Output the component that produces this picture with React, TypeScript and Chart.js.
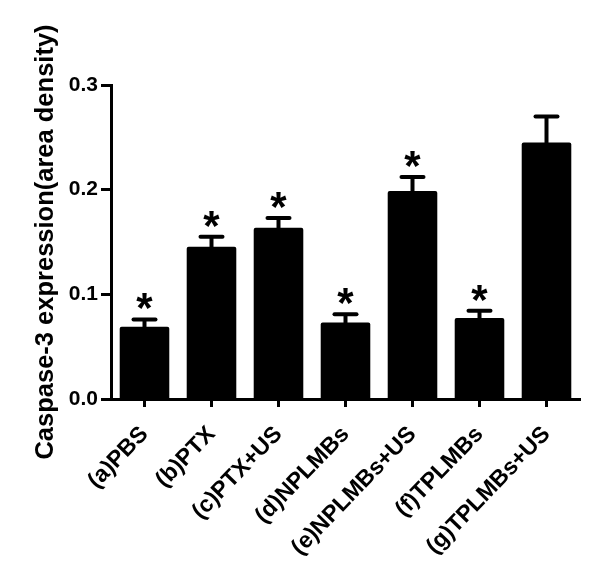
import React, { useEffect, useRef } from 'react';
import { Chart, registerables } from 'chart.js';

Chart.register(...registerables);

const categories = ['(a)PBS', '(b)PTX', '(c)PTX+US', '(d)NPLMBs', '(e)NPLMBs+US', '(f)TPLMBs', '(g)TPLMBs+US'];
const means = [0.069, 0.1455, 0.1636, 0.0732, 0.1987, 0.0774, 0.245];
const errors = [0.007, 0.0095, 0.0094, 0.0078, 0.0133, 0.0069, 0.025];
const significant = [true, true, true, true, true, true, false];
const yTicks = [0, 0.1, 0.2, 0.3];
const yTitle = 'Caspase-3 expression(area density)';

const FONT = '"Liberation Sans", Arial, sans-serif';

const errorBarPlugin = {
  id: 'errorBars',
  afterDatasetsDraw(chart: any) {
    const ctx = chart.ctx;
    const meta = chart.getDatasetMeta(0);
    const y = chart.scales.y;
    ctx.save();
    ctx.strokeStyle = '#000';
    ctx.fillStyle = '#000';
    meta.data.forEach((bar: any, i: number) => {
      const x = bar.x;
      const top = y.getPixelForValue(means[i]);
      const e = y.getPixelForValue(means[i] + errors[i]);
      ctx.lineWidth = 4;
      ctx.lineCap = 'butt';
      ctx.beginPath();
      ctx.moveTo(x, top + 1);
      ctx.lineTo(x, e);
      ctx.stroke();
      ctx.lineCap = 'round';
      ctx.beginPath();
      ctx.moveTo(x - 11, e);
      ctx.lineTo(x + 11, e);
      ctx.stroke();
      if (significant[i]) {
        ctx.font = `bold 42px ${FONT}`;
        ctx.textAlign = 'center';
        ctx.textBaseline = 'alphabetic';
        ctx.fillText('*', x, e + 3);
      }
    });
    ctx.restore();
  },
};

export default function App() {
  const ref = useRef<HTMLCanvasElement>(null);
  useEffect(() => {
    if (!ref.current) return;
    const chart = new Chart(ref.current, {
      type: 'bar',
      data: {
        labels: categories,
        datasets: [
          {
            data: means,
            backgroundColor: '#000',
            borderRadius: 2,
            categoryPercentage: 1,
            barPercentage: 0.74,
          },
        ],
      },
      options: {
        animation: false,
        responsive: true,
        maintainAspectRatio: false,
        layout: { padding: { left: 30, top: 85, right: 20, bottom: 0 } },
        plugins: { legend: { display: false }, tooltip: { enabled: false } },
        scales: {
          x: {
            afterFit: (s: any) => {
              s.height = 176;
            },
            grid: {
              display: true,
              drawOnChartArea: false,
              offset: false,
              tickLength: 8,
              tickWidth: 3,
              color: '#000',
            },
            border: { display: true, width: 3, color: '#000' },
            ticks: {
              color: '#000',
              font: { family: FONT, size: 23, weight: 'bold' },
              minRotation: 46,
              maxRotation: 46,
              padding: 14,
            },
          },
          y: {
            min: 0,
            max: 0.3,
            afterFit: (s: any) => {
              s.width = 81;
            },
            afterBuildTicks: (s: any) => {
              s.ticks = yTicks.map((v) => ({ value: v }));
            },
            grid: {
              display: true,
              drawOnChartArea: false,
              tickLength: 10,
              tickWidth: 3,
              color: '#000',
            },
            border: { display: true, width: 3, color: '#000' },
            ticks: {
              color: '#000',
              font: { family: FONT, size: 21, weight: 'bold' },
              padding: 3,
              callback: (v: any) => Number(v).toFixed(1),
            },
            title: {
              display: true,
              text: yTitle,
              color: '#000',
              font: { family: FONT, size: 25.5, weight: 'bold' },
              padding: { top: 1, bottom: 0 },
            },
          },
        },
      },
      plugins: [errorBarPlugin],
    });
    return () => chart.destroy();
  }, []);
  return (
    <div style={{ position: 'absolute', left: 0, top: 0, width: 600, height: 575, background: '#fff' }}>
      <canvas ref={ref} />
    </div>
  );
}
